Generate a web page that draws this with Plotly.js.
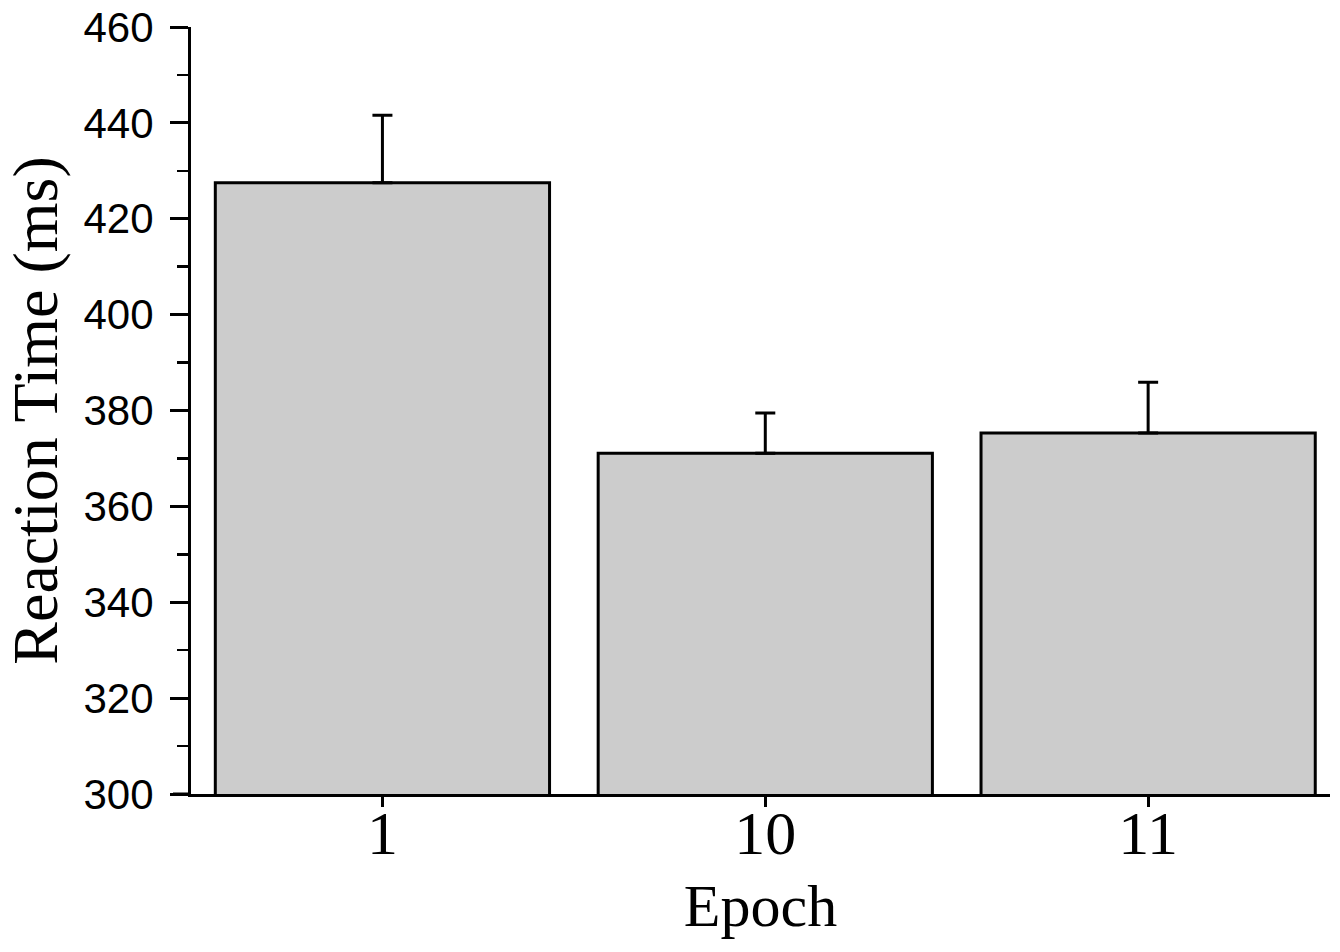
<!DOCTYPE html>
<html>
<head>
<meta charset="utf-8">
<script src="https://cdn.plot.ly/plotly-3.0.1.min.js"></script>
<style>
  html, body { margin: 0; padding: 0; background: #ffffff; }
  #chart { width: 1340px; height: 952px; }
</style>
</head>
<body>
<div id="chart"></div>
<script>
// Data
const epochs = ['1', '10', '11'];
const meanRT = [427.5, 371.1, 375.3];
const semUp = [14.1, 8.4, 10.6];
const semDown = [0, 0, 0];
const yTickVals = [300, 320, 340, 360, 380, 400, 420, 440, 460];
const yTickText = ['300', '320', '340', '360', '380', '400', '420', '440', '460'];

const serif = '"Liberation Serif", "Times New Roman", serif';
const sans = '"Liberation Sans", Arial, Helvetica, sans-serif';

const trace = {
  type: 'bar',
  x: epochs,
  y: meanRT,
  width: 0.873,
  marker: { color: '#cccccc', line: { color: '#000000', width: 3 } },
  error_y: {
    type: 'data', symmetric: false, array: semUp, arrayminus: semDown,
    color: '#000000', thickness: 3, width: 10
  },
  hoverinfo: 'x+y'
};

const layout = {
  width: 1340, height: 952,
  paper_bgcolor: '#ffffff', plot_bgcolor: '#ffffff',
  margin: { l: 191, r: 10, t: 27, b: 158, pad: 0 },
  showlegend: false,
  bargap: 0.1,
  xaxis: {
    type: 'category',
    range: [-0.5, 2.475],
    showline: true, linecolor: '#000000', linewidth: 3,
    ticks: 'outside', ticklen: 10, tickwidth: 3, tickcolor: '#000000',
    ticklabelstandoff: -27,
    tickfont: { family: serif, size: 62, color: '#000000' },
    showgrid: false, zeroline: false,
    title: { text: 'Epoch', font: { family: serif, size: 60, color: '#000000' }, standoff: 18 }
  },
  yaxis: {
    range: [300, 460],
    tickmode: 'array', tickvals: yTickVals, ticktext: yTickText,
    showline: true, linecolor: '#000000', linewidth: 3,
    ticks: 'outside', ticklen: 18, tickwidth: 3, tickcolor: '#000000',
    ticklabelstandoff: 8,
    minor: { dtick: 10, tick0: 300, ticks: 'outside', ticklen: 11, tickwidth: 2.5, tickcolor: '#000000', showgrid: false },
    tickfont: { family: sans, size: 42, color: '#000000' },
    showgrid: false, zeroline: false,
    title: { text: 'Reaction Time (ms)', font: { family: serif, size: 64, color: '#000000' }, standoff: 8 }
  },
  shapes: [{
    type: 'line', xref: 'paper', yref: 'y',
    x0: -18 / 1139, x1: 0, y0: 300, y1: 300,
    line: { color: '#000000', width: 3 }
  }]
};

Plotly.newPlot('chart', [trace], layout, { displayModeBar: false, staticPlot: true });
</script>
</body>
</html>
